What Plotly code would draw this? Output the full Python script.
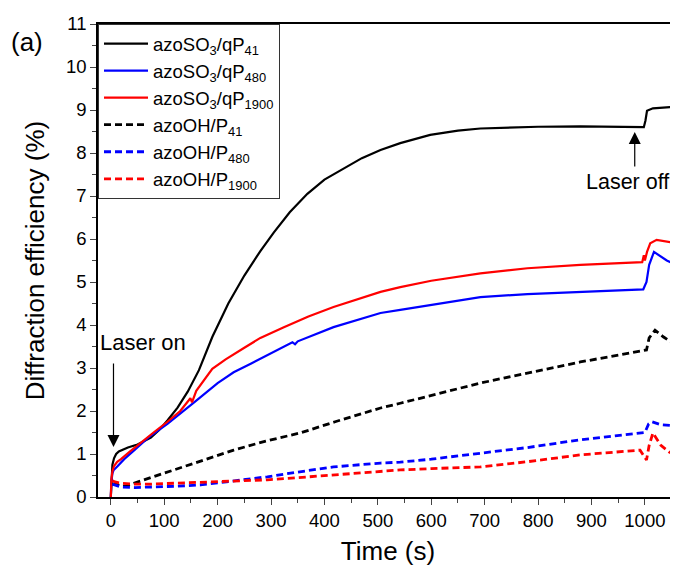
import plotly.graph_objects as go

# ---- data ----
t_so3_41 = [0, 1, 3, 6, 10, 15, 22, 32, 50, 75, 90, 106, 125, 144, 165, 190, 220, 250, 280, 305, 335, 368, 400, 430, 470, 505, 542, 598, 650, 692, 750, 800, 879, 940, 978, 998, 1001, 1004, 1015, 1040, 1062]
v_so3_41 = [0, 0.45, 0.75, 0.9, 1.0, 1.06, 1.1, 1.15, 1.22, 1.38, 1.55, 1.78, 2.08, 2.45, 2.95, 3.72, 4.5, 5.15, 5.72, 6.15, 6.62, 7.05, 7.38, 7.6, 7.88, 8.07, 8.23, 8.42, 8.52, 8.57, 8.6, 8.61, 8.62, 8.61, 8.6, 8.6, 8.75, 8.98, 9.04, 9.06, 9.08]

t_so3_480 = [0, 1, 3, 5, 13, 25, 43, 70, 106, 130, 156, 200, 230, 262, 300, 340, 345, 350, 417, 470, 505, 542, 600, 692, 780, 879, 960, 997, 1003, 1008, 1017, 1030, 1041, 1062]
v_so3_480 = [0, 0.35, 0.55, 0.62, 0.72, 0.88, 1.08, 1.38, 1.7, 1.95, 2.2, 2.65, 2.9, 3.1, 3.35, 3.6, 3.55, 3.62, 3.95, 4.15, 4.28, 4.35, 4.47, 4.65, 4.72, 4.77, 4.8, 4.83, 5.0, 5.4, 5.7, 5.58, 5.5, 5.38]

t_so3_1900 = [0, 1, 3, 6, 12, 19, 35, 56, 80, 106, 130, 146, 149, 152, 155, 160, 190, 215, 250, 280, 324, 370, 417, 470, 505, 542, 600, 692, 780, 879, 960, 995, 998, 1000, 1004, 1010, 1022, 1040, 1062]
v_so3_1900 = [0, 0.4, 0.6, 0.72, 0.82, 0.88, 1.05, 1.27, 1.5, 1.75, 2.0, 2.25, 2.3, 2.2, 2.3, 2.47, 2.98, 3.2, 3.47, 3.7, 3.95, 4.2, 4.42, 4.63, 4.77, 4.88, 5.03, 5.2, 5.32, 5.4, 5.43, 5.46, 5.62, 5.5, 5.7, 5.9, 5.98, 5.95, 5.9]

t_oh_41 = [3, 10, 20, 30, 43, 75, 106, 137, 180, 230, 290, 355, 420, 505, 542, 692, 879, 1003, 1008, 1019, 1035, 1052, 1062]
v_oh_41 = [0.3, 0.3, 0.25, 0.26, 0.32, 0.45, 0.58, 0.7, 0.88, 1.09, 1.3, 1.49, 1.75, 2.07, 2.18, 2.65, 3.14, 3.42, 3.7, 3.88, 3.72, 3.58, 3.55]

t_oh_480 = [3, 8, 20, 45, 75, 120, 168, 230, 293, 350, 417, 505, 542, 600, 692, 780, 879, 991, 1000, 1007, 1013, 1030, 1062]
v_oh_480 = [0.3, 0.28, 0.23, 0.22, 0.23, 0.25, 0.28, 0.38, 0.47, 0.58, 0.7, 0.79, 0.81, 0.88, 1.02, 1.15, 1.33, 1.49, 1.5, 1.7, 1.75, 1.68, 1.65]

t_oh_1900 = [3, 8, 19, 40, 75, 120, 168, 230, 293, 350, 417, 505, 542, 600, 692, 780, 879, 940, 991, 1003, 1008, 1015, 1030, 1045, 1062]
v_oh_1900 = [0.38, 0.35, 0.32, 0.3, 0.3, 0.32, 0.33, 0.36, 0.4, 0.45, 0.51, 0.58, 0.63, 0.66, 0.7, 0.82, 0.98, 1.04, 1.09, 0.86, 1.2, 1.49, 1.2, 1.05, 0.93]

names = ["azoSO<sub>3</sub>/qP<sub>41</sub>", "azoSO<sub>3</sub>/qP<sub>480</sub>", "azoSO<sub>3</sub>/qP<sub>1900</sub>",
         "azoOH/P<sub>41</sub>", "azoOH/P<sub>480</sub>", "azoOH/P<sub>1900</sub>"]

x_ticks = list(range(0, 1001, 100))
y_ticks = list(range(0, 12))

FONT = "Liberation Sans, Arial, sans-serif"

series = [
    (t_so3_41, v_so3_41, "#000000", "solid"),
    (t_so3_480, v_so3_480, "#0000ff", "solid"),
    (t_so3_1900, v_so3_1900, "#ff0000", "solid"),
    (t_oh_41, v_oh_41, "#000000", "7px,4px"),
    (t_oh_480, v_oh_480, "#0000ff", "7px,4px"),
    (t_oh_1900, v_oh_1900, "#ff0000", "7px,4px"),
]

fig = go.Figure()
for i, ((tx, vy, col, dash), nm) in enumerate(zip(series, names)):
    fig.add_trace(go.Scatter(
        x=tx, y=vy, mode="lines", name=nm, legendgroup=f"g{i}",
        line=dict(color=col, width=2.2 if dash == "solid" else 2.8, dash=dash),
    ))

# the page body adds an 8px offset, so the figure is sized/margined to compensate
fig.update_layout(
    width=670, height=558,
    margin=dict(l=90, r=0, t=16, b=69, autoexpand=False),
    paper_bgcolor="white", plot_bgcolor="white",
    font=dict(family=FONT, color="black", size=18),
    showlegend=True,
    legend=dict(x=0, y=1, xanchor="left", yanchor="top",
                bordercolor="#333", borderwidth=1, bgcolor="white",
                font=dict(size=18.5), tracegroupgap=5, itemwidth=44,
                traceorder="normal"),
    xaxis=dict(range=[-24, 1062], tickvals=x_ticks, ticks="outside", ticklen=6, tickwidth=1.2,
               showline=True, linecolor="black", linewidth=1.5, mirror=True,
               showgrid=False, zeroline=False, automargin=False,
               minor=dict(dtick=50, tick0=0, ticks="outside", ticklen=4, tickwidth=1.2, showgrid=False),
               title=dict(text="Time (s)", font=dict(size=26), standoff=12),
               tickfont=dict(size=18.5)),
    yaxis=dict(range=[0, 11], tickvals=y_ticks, ticks="outside", ticklen=6, tickwidth=1.2,
               showline=True, linecolor="black", linewidth=1.5,
               showgrid=False, zeroline=False, automargin=False,
               minor=dict(dtick=0.5, tick0=0, ticks="outside", ticklen=4, tickwidth=1.2, showgrid=False),
               title=dict(text="Diffraction efficiency (%)", font=dict(size=26), standoff=14),
               tickfont=dict(size=18.5)),
)

# annotations
fig.add_annotation(x=5, y=1.16, ax=5, ay=3.14, xref="x", yref="y", axref="x", ayref="y",
                   showarrow=True, arrowhead=2, arrowsize=2, arrowwidth=1.2, arrowcolor="black", text="")
fig.add_annotation(x=60, y=3.6, xref="x", yref="y", text="Laser on", showarrow=False,
                   font=dict(size=22))
fig.add_annotation(x=981, y=8.49, ax=981, ay=7.65, xref="x", yref="y", axref="x", ayref="y",
                   showarrow=True, arrowhead=2, arrowsize=2, arrowwidth=1.2, arrowcolor="black", text="")
fig.add_annotation(x=968, y=7.33, xref="x", yref="y", text="Laser off", showarrow=False,
                   font=dict(size=21.5))
fig.add_annotation(x=(27 - 98) / 580, y=(497 - 42) / 473, xref="paper", yref="paper", text="(a)",
                   showarrow=False, xanchor="center", yanchor="middle", font=dict(size=26))

fig.write_html("out.html")
